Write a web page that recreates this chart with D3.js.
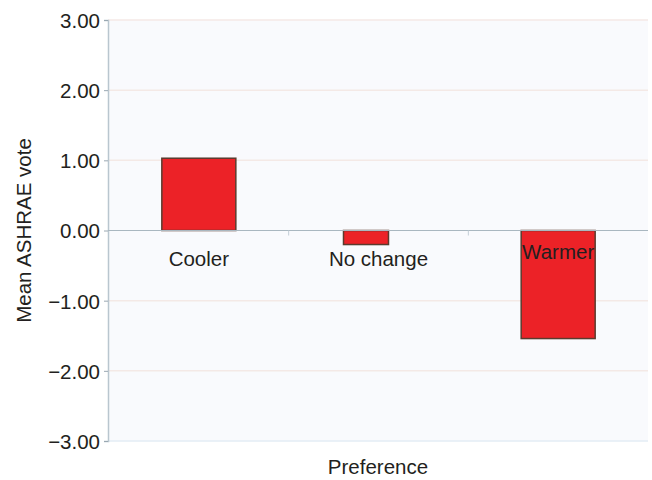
<!DOCTYPE html>
<html><head><meta charset="utf-8">
<script src="https://cdn.jsdelivr.net/npm/d3@7"></script>
<style>body{margin:0;background:#fff;} text{font-family:"Liberation Sans",Arial,sans-serif;fill:#231f20;}</style>
</head><body><svg id="c" width="652" height="480"></svg>
<script>
const categories = ["Cooler", "No change", "Warmer"];
const values = [1.03, -0.20, -1.54];
const yTicks = [3, 2, 1, 0, -1, -2, -3];
const yTickLabels = ["3.00", "2.00", "1.00", "0.00", "\u22121.00", "\u22122.00", "\u22123.00"];
const xTitle = "Preference";
const yTitle = "Mean ASHRAE vote";

const svg = d3.select("#c");
const m = {l:108, r:4, t:20, b:39};
const W = 652, H = 480;
const FS = 20.5;
const x = d3.scaleBand().domain(categories).range([m.l+1, W-m.r]).paddingInner(0).paddingOuter(0);
const y = d3.scaleLinear().domain([-3, 3]).range([H-m.b, m.t]);

// plot background
svg.append("rect").attr("x", m.l).attr("y", y(3)).attr("width", W-m.r-m.l).attr("height", y(-3)-y(3)).attr("fill", "#f9fafd");

// gridlines
svg.append("g").selectAll("line").data(yTicks.filter(d => d !== 0 && d !== -3)).join("line")
  .attr("x1", m.l).attr("x2", W-m.r).attr("y1", d => y(d)).attr("y2", d => y(d))
  .attr("stroke", "#f4e9e6").attr("stroke-width", 1.5);
svg.append("line").attr("x1", m.l).attr("x2", W-m.r).attr("y1", y(-3)).attr("y2", y(-3))
  .attr("stroke", "#e3edf4").attr("stroke-width", 1.5);

// y axis
const ya = svg.append("g").attr("transform", `translate(${m.l},0)`)
  .call(d3.axisLeft(y).tickValues(yTicks).tickFormat((d,i) => yTickLabels[i]).tickSize(4).tickPadding(4));
ya.select(".domain").attr("stroke", "#b9c6cf").attr("stroke-width", 1.5);
ya.selectAll(".tick line").attr("stroke", "#9aa8b2");
ya.selectAll(".tick text").attr("font-size", FS).attr("fill", "#231f20").attr("dy", "0.36em");

// bars
const bw = 74;
svg.append("g").selectAll("rect").data(values).join("rect")
  .attr("x", (d,i) => x(categories[i]) + x.bandwidth()/2 - bw/2 + (i === 1 ? 2 : 0))
  .attr("width", (d,i) => i === 1 ? 45 : bw)
  .attr("y", d => y(Math.max(0, d)))
  .attr("height", d => Math.abs(y(d) - y(0)))
  .attr("fill", "#ec2227").attr("stroke", "#5b3b2e").attr("stroke-width", 1.5);

// zero line
svg.append("line").attr("x1", m.l).attr("x2", W-m.r).attr("y1", y(0)).attr("y2", y(0))
  .attr("stroke", "#a9b7c0").attr("stroke-width", 1.2);
svg.append("g").selectAll("line").data(categories.slice(1)).join("line")
  .attr("x1", d => x(d)).attr("x2", d => x(d)).attr("y1", y(0)).attr("y2", y(0)+5)
  .attr("stroke", "#c3ced6").attr("stroke-width", 1);

// category labels
svg.append("g").selectAll("text").data(categories).join("text")
  .attr("x", d => x(d) + x.bandwidth()/2)
  .attr("y", (d,i) => i === 2 ? y(0) + 28 : y(0) + 35)
  .attr("text-anchor", "middle").attr("font-size", FS).text(d => d);

// titles
svg.append("text").attr("x", 378).attr("y", 474).attr("text-anchor", "middle").attr("font-size", FS).text(xTitle);
svg.append("text").attr("transform", `translate(31,${y(0)}) rotate(-90)`).attr("text-anchor", "middle").attr("font-size", FS).text(yTitle);
</script></body></html>
